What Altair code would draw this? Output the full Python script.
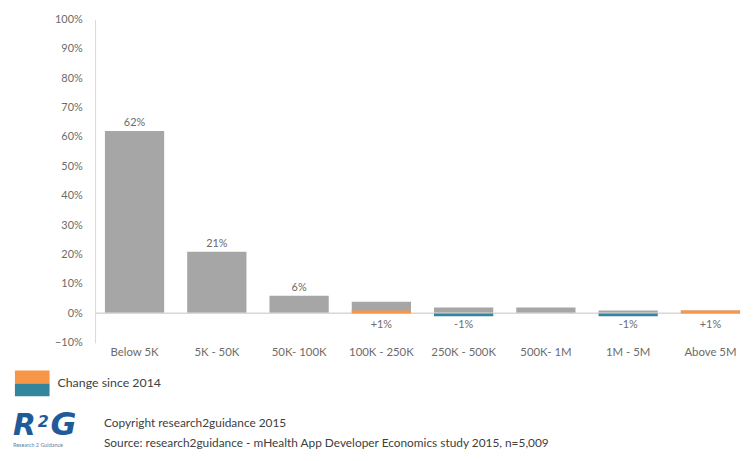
import altair as alt
import pandas as pd

categories = ["Below 5K", "5K - 50K", "50K- 100K", "100K - 250K", "250K - 500K", "500K- 1M", "1M - 5M", "Above 5M"]
share = [0.62, 0.21, 0.06, 0.04, 0.02, 0.02, 0.01, 0.01]
share_labels = ["62%", "21%", "6%", "", "", "", "", ""]
change = [None, None, None, 0.01, -0.01, None, -0.01, 0.01]
change_labels = ["", "", "", "+1%", "-1%", "", "-1%", "+1%"]
y_ticks = [-0.1, 0.0, 0.1, 0.2, 0.3, 0.4, 0.5, 0.6, 0.7, 0.8, 0.9, 1.0]

ORANGE = "#f79646"
TEAL = "#31859c"
GRAY = "#a6a6a6"
TXT = "#6b6b6b"
FONT = "Lato"

df = pd.DataFrame({
    "cat": categories,
    "share": share,
    "share_label": share_labels,
    "change": change,
    "change_label": change_labels,
})
df["dir"] = ["up" if (c is not None and c > 0) else "down" for c in change]

xscale = alt.Scale(domain=categories, paddingInner=0.28, paddingOuter=0.12, range=[0, 662])
yscale = alt.Scale(domain=[-0.1, 1.0], nice=False, zero=False)

xaxis = alt.Axis(title=None, labelAngle=0, ticks=False, domain=False,
                 labelPadding=4, labelFont=FONT, labelFontSize=11.5,
                 labelColor=TXT, labelOverlap=False)
yaxis = alt.Axis(title=None, format=".0%", values=y_ticks, ticks=False, grid=False,
                 domainColor="#d9d9d9", labelPadding=13, labelFont=FONT,
                 labelFontSize=11, labelColor=TXT, labelOverlap=False,
                 labelFlush=False, labelBound=False)


def X():
    return alt.X("cat:N", sort=categories, scale=xscale, axis=xaxis)


base = alt.Chart(df)

bars = base.mark_bar(color=GRAY).encode(
    x=X(),
    y=alt.Y("share:Q", scale=yscale, axis=yaxis),
    y2=alt.datum(0),
)

zero = base.mark_rule(color="#d9d9d9", strokeWidth=1).encode(
    y=alt.datum(0, scale=yscale, axis=yaxis),
)

chg = base.transform_filter("isValid(datum.change)").mark_bar().encode(
    x=X(),
    y=alt.Y("change:Q", scale=yscale, axis=yaxis),
    y2=alt.datum(0),
    color=alt.Color("dir:N", scale=alt.Scale(domain=["up", "down"], range=[ORANGE, TEAL]), legend=None),
)

share_txt = base.mark_text(dy=-8, font=FONT, fontSize=11, color=TXT).encode(
    x=X(),
    y=alt.Y("share:Q", scale=yscale, axis=yaxis),
    text="share_label:N",
)

chg_txt = base.mark_text(dy=12, font=FONT, fontSize=11, color=TXT).encode(
    x=X(),
    y=alt.datum(0, scale=yscale, axis=yaxis),
    text="change_label:N",
)

one = pd.DataFrame({"a": [1]})
leg_top = alt.Chart(one).mark_rect(color=ORANGE).encode(
    x=alt.value(-81), x2=alt.value(-46), y=alt.value(355), y2=alt.value(368))
leg_bot = alt.Chart(one).mark_rect(color=TEAL).encode(
    x=alt.value(-81), x2=alt.value(-46), y=alt.value(368), y2=alt.value(381))
leg_txt = alt.Chart(pd.DataFrame({"t": ["Change since 2014"]})).mark_text(
    align="left", baseline="middle", font=FONT, fontSize=12.5, color="#404040").encode(
    x=alt.value(-38), y=alt.value(368), text="t:N")

copy_txt = alt.Chart(pd.DataFrame({"t": ["Copyright research2guidance 2015"]})).mark_text(
    align="left", baseline="middle", font=FONT, fontSize=12, color="#404040").encode(
    x=alt.value(9), y=alt.value(408), text="t:N")
src_txt = alt.Chart(pd.DataFrame({"t": ["Source: research2guidance - mHealth App Developer Economics study 2015, n=5,009"]})).mark_text(
    align="left", baseline="middle", font=FONT, fontSize=12, color="#404040").encode(
    x=alt.value(9), y=alt.value(428), text="t:N")

LOGO = "#1f5b99"
logo_r = alt.Chart(pd.DataFrame({"t": ["R"]})).mark_text(
    align="left", baseline="alphabetic", font="DejaVu Sans", fontSize=30,
    fontWeight="bold", fontStyle="italic", color=LOGO).encode(
    x=alt.value(-83), y=alt.value(420), text="t:N")
logo_2 = alt.Chart(pd.DataFrame({"t": ["2"]})).mark_text(
    align="left", baseline="alphabetic", font="DejaVu Sans", fontSize=16,
    fontWeight="bold", fontStyle="italic", color=LOGO).encode(
    x=alt.value(-58), y=alt.value(412), text="t:N")
logo_g = alt.Chart(pd.DataFrame({"t": ["G"]})).mark_text(
    align="left", baseline="alphabetic", font="DejaVu Sans", fontSize=32,
    fontWeight="bold", fontStyle="italic", color=LOGO).encode(
    x=alt.value(-45), y=alt.value(420), text="t:N")
logo_tag = alt.Chart(pd.DataFrame({"t": ["Research 2 Guidance"]})).mark_text(
    align="left", baseline="top", font=FONT, fontSize=5.5, color="#5b7fa6").encode(
    x=alt.value(-83), y=alt.value(428), text="t:N")

chart = alt.layer(
    bars, zero, chg, share_txt, chg_txt,
    leg_top, leg_bot, leg_txt, copy_txt, src_txt, logo_r, logo_2, logo_g, logo_tag,
).properties(
    width=649, height=327,
    autosize=alt.AutoSizeParams(type="none"),
    padding={"left": 88, "top": 9, "right": 8, "bottom": 117},
).configure(
    background="white",
    view=alt.ViewConfig(stroke=None),
    axis=alt.AxisConfig(labelOverlap=False, labelFlush=False, labelBound=False),
)

chart.save("out.html", embed_options={"renderer": "svg", "actions": False})
